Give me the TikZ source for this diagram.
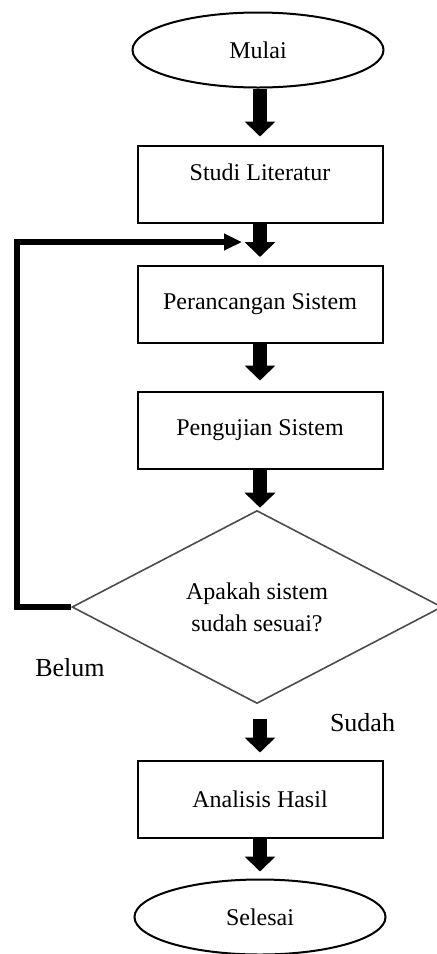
\documentclass[tikz,border=0pt]{standalone}
\usepackage{fontspec}
\setmainfont{Liberation Serif}
\usetikzlibrary{shapes.geometric,arrows.meta}

\begin{document}
\begin{tikzpicture}[x=0.5pt,y=-0.5pt,
    every node/.style={font=\fontsize{12}{16}\selectfont},
    kotak/.style={draw,line width=1pt,minimum width=122.5pt,minimum height=38.5pt},
    elips/.style={draw,ellipse,line width=1pt,minimum width=125.5pt,minimum height=37.5pt},
    jawab/.style={font=\fontsize{13}{16}\selectfont},
    blok/.style={line width=7pt,-{Triangle[width=15pt,length=7.5pt]},shorten >=4pt},
    balik/.style={line width=3pt,-{Triangle[width=8pt,length=9pt]}}]
  \useasboundingbox (0,0) rectangle (437,954);
  \node[elips] (mulai) at (258,50) {Mulai};
  \node[kotak,text depth=12pt] (studi) at (260,184) {Studi Literatur};
  \node[kotak] (rancang) at (260,304.5) {Perancangan Sistem};
  \node[kotak] (uji) at (260,430) {Pengujian Sistem};
  \node[diamond,draw=black!70,line width=0.8pt,inner sep=0pt,aspect=2,
    minimum width=185pt,minimum height=96.5pt,align=center] (cek) at (257,607)
    {Apakah sistem\\sudah sesuai?};
  \node[kotak] (analisis) at (260,799) {Analisis Hasil};
  \node[elips] (selesai) at (260,917) {Selesai};
  \node[jawab] (belum) at (70,668) {Belum};
  \node[jawab] (sudah) at (362.5,723) {Sudah};
  \coordinate (masuk) at (242,242);
  % alur utama
  \draw[blok] (studi.north |- mulai.south) -- (studi);
  \draw[blok] (studi) -- (rancang);
  \draw[blok,shorten >=5pt] (rancang) -- (uji);
  \draw[blok,shorten >=1pt] (uji.south) -- (uji.south |- cek.north);
  \draw[blok,shorten <=7.5pt,shorten >=3.5pt] (analisis.north |- cek.south) -- (analisis);
  \draw[blok,shorten >=3.5pt] (analisis) -- (selesai);
  % kembali jika belum sesuai
  \draw[balik] (cek.west) -- (17,607) |- (masuk);
\end{tikzpicture}
\end{document}
